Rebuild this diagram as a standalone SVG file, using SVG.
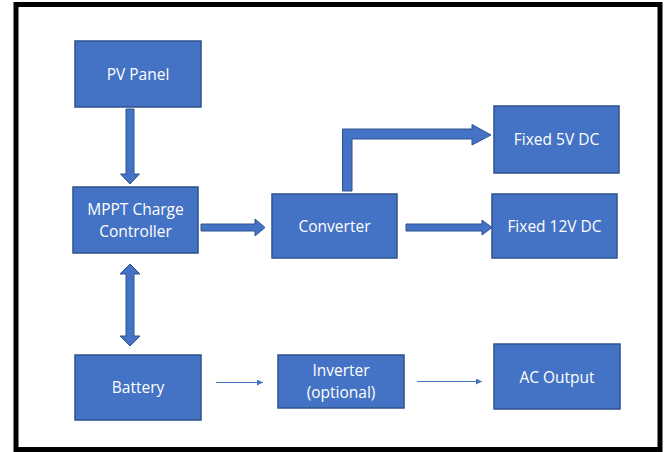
<svg xmlns="http://www.w3.org/2000/svg" width="665" height="452" viewBox="0 0 665 452">
<style>
.box{fill:#4472C4;stroke:#2F528F;stroke-width:1.5}
.lbl{fill:#FFFFFF;font-family:"Open Sans","Noto Sans",sans-serif;font-size:15.5px;text-anchor:middle;dominant-baseline:central}
.barrow{fill:#4472C4;stroke:#2F528F;stroke-width:1}
.thin{stroke:#4472C4;stroke-width:1.2;fill:none;marker-end:url(#ah)}
</style>
<defs>
<marker id="ah" viewBox="0 0 10 10" refX="10" refY="5" markerWidth="6" markerHeight="6" markerUnits="userSpaceOnUse" orient="auto">
<path d="M0,0 L10,5 L0,10 z" fill="#4472C4"/>
</marker>
</defs>
<rect x="16" y="4.5" width="644" height="445" fill="#FFFFFF" stroke="#000000" stroke-width="5"/>
<g id="connectors">
<path class="barrow" d="M126,109 H134 V174 H139.5 L130,184 L120.5,174 H126 Z"/>
<path class="barrow" d="M201,224 H255 V219 L265,227.5 L255,236 V231 H201 Z"/>
<path class="barrow" d="M126,274 H120 L130,264 L140,274 H134 V336 H140 L130,346 L120,336 H126 Z"/>
<path class="barrow" d="M406,224 H482 V220 L492,227.5 L482,235 V231 H406 Z"/>
<path class="barrow" d="M342.5,191 V129 H472 V124.5 L491,135 L472,145 V139 H352 V191 Z"/>
<line class="thin" x1="216" y1="382.5" x2="263" y2="382.5"/>
<line class="thin" x1="417" y1="381.5" x2="482" y2="381.5"/>
</g>
<g id="pv-panel"><rect class="box" x="75" y="41" width="126" height="66"/><text class="lbl" x="138" y="74">PV Panel</text></g>
<g id="mppt"><rect class="box" x="73" y="187" width="125" height="66"/><text class="lbl" x="135.5" y="209">MPPT Charge</text><text class="lbl" x="135.5" y="230.5">Controller</text></g>
<g id="converter"><rect class="box" x="272" y="194" width="125" height="64"/><text class="lbl" x="334.5" y="226">Converter</text></g>
<g id="fixed-5v"><rect class="box" x="494" y="106" width="125" height="67"/><text class="lbl" x="556.5" y="139">Fixed 5V DC</text></g>
<g id="fixed-12v"><rect class="box" x="492" y="194" width="125" height="64"/><text class="lbl" x="554.5" y="226">Fixed 12V DC</text></g>
<g id="battery"><rect class="box" x="75" y="355" width="126" height="65"/><text class="lbl" x="138" y="387">Battery</text></g>
<g id="inverter"><rect class="box" x="278" y="355" width="126" height="53"/><text class="lbl" x="341" y="370">Inverter</text><text class="lbl" x="341" y="391.5">(optional)</text></g>
<g id="ac-output"><rect class="box" x="494" y="344" width="126" height="65"/><text class="lbl" x="557" y="376.5">AC Output</text></g>
</svg>
